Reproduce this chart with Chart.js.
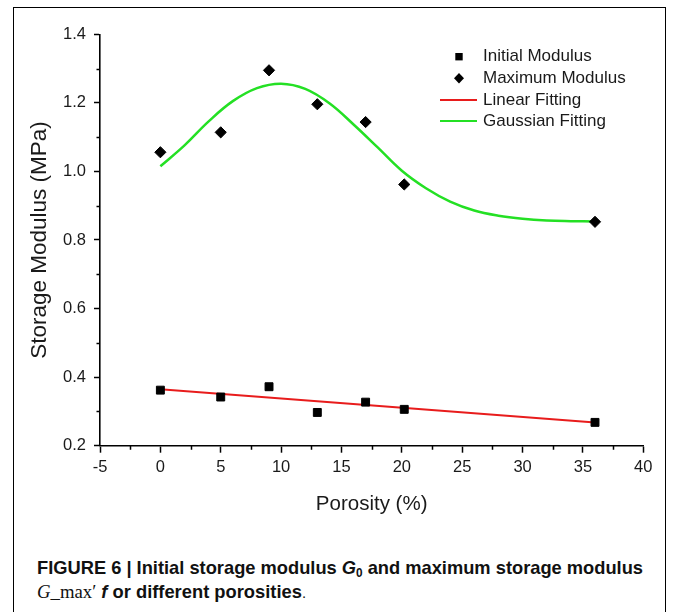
<!DOCTYPE html>
<html>
<head>
<meta charset="utf-8">
<script src="https://cdn.jsdelivr.net/npm/chart.js@4.4.1/dist/chart.umd.min.js"></script>
<style>
  html, body { margin:0; padding:0; background:#fff; width:673px; height:612px; overflow:hidden; }
  .frame { position:absolute; left:12.5px; top:6.5px; width:653.3px; height:700px; border:1.6px solid #000; box-sizing:border-box; }
  #chart { position:absolute; left:0; top:0; }
  .caption { position:absolute; left:37px; top:557px; font-family:'Liberation Sans Narrow','Arial Narrow','Liberation Sans',Arial,sans-serif; font-weight:bold; font-size:18.6px; line-height:21px; color:#111; white-space:nowrap; }
  .caption .line { display:inline-block; transform-origin:0 0; }
  .caption .sub { font-size:12px; position:relative; top:3px; }
  .caption .serif { font-family:'Liberation Serif','Times New Roman',serif; font-weight:normal; font-size:19px; }
  .caption .plain { font-weight:normal; font-size:15px; }
</style>
</head>
<body>
<div class="frame"></div>
<canvas id="chart" width="673" height="530"></canvas>
<div class="caption">
  <span class="line" id="cap1">FIGURE 6 | Initial storage modulus <i>G</i><span class="sub">0</span> and maximum storage modulus</span><br>
  <span class="line" id="cap2"><span class="serif"><i>G</i>_max′</span> <i>f</i> or different porosities<span class="plain">.</span></span>
</div>
<script>
// Porosity (%) of the samples
const porosity = [0, 5, 9, 13, 17, 20.2, 36];
// Storage modulus (MPa)
const initialModulus = [0.362, 0.342, 0.372, 0.297, 0.327, 0.306, 0.268];
const maximumModulus = [1.056, 1.114, 1.295, 1.196, 1.144, 0.962, 0.853];

// Linear fit of the initial modulus
const linearFitX = [0, 36];
const linearFitY = [0.365, 0.268];

// Gaussian fit of the maximum modulus, sampled along the curve
const gaussFitX = [0, 2, 4, 6, 8, 10, 12, 14, 16, 18, 20, 22, 24, 26, 28, 30, 32, 34, 36];
const gaussFitY = [1.015, 1.076, 1.146, 1.205, 1.243, 1.256, 1.241, 1.199, 1.137, 1.070, 1.002, 0.951, 0.912, 0.886, 0.871, 0.862, 0.857, 0.855, 0.854];

// Axis ticks
const xTickValues = [-5, 0, 5, 10, 15, 20, 25, 30, 35, 40];
const yTickValues = [0.2, 0.4, 0.6, 0.8, 1.0, 1.2, 1.4];

const seriesLabels = ['Initial Modulus', 'Maximum Modulus', 'Linear Fitting', 'Gaussian Fitting'];

const FONT = "'Liberation Sans', Arial, Helvetica, sans-serif";
const INK = '#1a1a1a';
const RED = '#e81c1c';
const GREEN = '#24e024';

const toPoints = (xs, ys) => xs.map((x, i) => ({ x, y: ys[i] }));

// Half-way minor ticks between the major ones, drawn outward from each axis
const minorTicks = {
  id: 'minorTicks',
  afterDraw(chart) {
    const { ctx } = chart;
    const xs = chart.scales.x, ys = chart.scales.y;
    ctx.save();
    ctx.strokeStyle = '#000';
    ctx.lineWidth = 1.5;
    ctx.beginPath();
    for (let i = 0; i < xs.ticks.length - 1; i++) {
      const v = (xs.ticks[i].value + xs.ticks[i + 1].value) / 2;
      const px = Math.round(xs.getPixelForValue(v)) + 0.5;
      ctx.moveTo(px, xs.top);
      ctx.lineTo(px, xs.top + 4);
    }
    for (let i = 0; i < ys.ticks.length - 1; i++) {
      const v = (ys.ticks[i].value + ys.ticks[i + 1].value) / 2;
      const py = Math.round(ys.getPixelForValue(v)) + 0.5;
      ctx.moveTo(ys.right, py);
      ctx.lineTo(ys.right - 3.5, py);
    }
    ctx.stroke();
    ctx.restore();
  }
};

// Legend placed inside the plot, upper right
const insetLegend = {
  id: 'insetLegend',
  afterDraw(chart) {
    const { ctx, chartArea } = chart;
    const markerX = chartArea.left + 359;
    const lineX0 = chartArea.left + 340, lineX1 = chartArea.left + 377;
    const textX = chartArea.left + 383;
    const rowY = [22.4, 44, 65.7, 86.7].map(d => chartArea.top + d);
    ctx.save();
    ctx.font = '17px ' + FONT;
    ctx.textBaseline = 'middle';
    ctx.textAlign = 'left';
    chart.data.datasets.forEach((ds, i) => {
      const y = rowY[i];
      if (ds.showLine) {
        ctx.strokeStyle = ds.borderColor;
        ctx.lineWidth = 2;
        ctx.beginPath();
        ctx.moveTo(lineX0, y);
        ctx.lineTo(lineX1, y);
        ctx.stroke();
      } else {
        ctx.fillStyle = '#000';
        ctx.beginPath();
        if (ds.pointStyle === 'rect') {
          ctx.rect(markerX - 3.7, y - 3.7, 7.4, 7.4);
        } else {
          ctx.moveTo(markerX, y - 5.2);
          ctx.lineTo(markerX + 5, y);
          ctx.lineTo(markerX, y + 5.2);
          ctx.lineTo(markerX - 5, y);
          ctx.closePath();
        }
        ctx.fill();
      }
      ctx.fillStyle = INK;
      ctx.fillText(ds.label, textX, y);
    });
    ctx.restore();
  }
};

new Chart(document.getElementById('chart'), {
  type: 'scatter',
  data: {
    datasets: [
      {
        label: seriesLabels[0],
        data: toPoints(porosity, initialModulus),
        pointStyle: 'rect', pointRadius: 5.6, pointBorderWidth: 1,
        backgroundColor: '#000', borderColor: '#000', order: 0
      },
      {
        label: seriesLabels[1],
        data: toPoints(porosity, maximumModulus),
        pointStyle: 'rectRot', pointRadius: 5.6, pointBorderWidth: 1,
        backgroundColor: '#000', borderColor: '#000', order: 0
      },
      {
        label: seriesLabels[2],
        data: toPoints(linearFitX, linearFitY),
        showLine: true, borderColor: RED, borderWidth: 2, pointRadius: 0, order: 1
      },
      {
        label: seriesLabels[3],
        data: toPoints(gaussFitX, gaussFitY),
        showLine: true, borderColor: GREEN, borderWidth: 2.5, pointRadius: 0,
        tension: 0.4, order: 1
      }
    ]
  },
  options: {
    responsive: false,
    animation: false,
    events: [],
    layout: { padding: { left: 0, top: 34.3, right: 29.7, bottom: 0 } },
    plugins: { legend: { display: false }, tooltip: { enabled: false } },
    scales: {
      x: {
        type: 'linear', min: -5, max: 40,
        afterBuildTicks: s => { s.ticks = xTickValues.map(v => ({ value: v })); },
        afterFit: s => { s.height = 84.3; },
        grid: { drawOnChartArea: false, drawTicks: true, tickLength: 7, tickColor: '#000', tickWidth: 1.5 },
        border: { display: true, color: '#000', width: 1.6 },
        ticks: { color: INK, padding: 5, font: { family: FONT, size: 16.5 }, callback: v => String(v), maxRotation: 0, autoSkip: false },
        title: { display: true, text: 'Porosity (%)', color: INK, font: { family: FONT, size: 20.5, lineHeight: 1 }, padding: { top: 0, bottom: 15.5 } }
      },
      y: {
        type: 'linear', min: 0.2, max: 1.4,
        afterBuildTicks: s => { s.ticks = yTickValues.map(v => ({ value: v })); },
        afterFit: s => { s.width = 100; },
        grid: { drawOnChartArea: false, drawTicks: true, tickLength: 6, tickColor: '#000', tickWidth: 1.5 },
        border: { display: true, color: '#000', width: 1.6 },
        ticks: { color: INK, padding: 8, font: { family: FONT, size: 16.5 }, callback: v => Number(v).toFixed(1), autoSkip: false },
        title: { display: true, text: 'Storage Modulus (MPa)', color: INK, font: { family: FONT, size: 22.5, lineHeight: 1 }, padding: { top: 28.5, bottom: 0 } }
      }
    }
  },
  plugins: [minorTicks, insetLegend]
});

// Fit the caption lines to their column width
function fitCaption() {
  [['cap1', 606], ['cap2', 269]].forEach(([id, w]) => {
    const el = document.getElementById(id);
    el.style.transform = 'none';
    const cur = el.getBoundingClientRect().width;
    if (cur > 0) el.style.transform = 'scaleX(' + (w / cur).toFixed(4) + ')';
  });
}
fitCaption();
if (document.fonts && document.fonts.ready) document.fonts.ready.then(fitCaption);
</script>
</body>
</html>
